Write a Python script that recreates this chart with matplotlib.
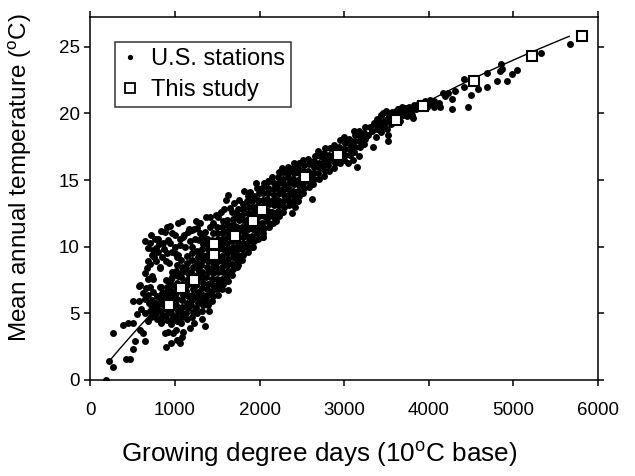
import numpy as np
import matplotlib
matplotlib.use("Agg")
import matplotlib.pyplot as plt
from matplotlib.lines import Line2D

plt.rcParams['font.family'] = ['Liberation Sans', 'DejaVu Sans']
plt.rcParams['mathtext.fontset'] = 'custom'
plt.rcParams['mathtext.rm'] = 'Liberation Sans'
plt.rcParams['mathtext.it'] = 'Liberation Sans:italic'

# ---------------- data ----------------
x_ticks = [0, 1000, 2000, 3000, 4000, 5000, 6000]
y_ticks = [0, 5, 10, 15, 20, 25]

# "This study" squares
study_gdd = [933, 1065, 1228, 1465, 1465, 1713, 1926, 2028, 2537, 2923, 3612, 3931, 4534, 5223, 5807]
study_temp = [5.65, 6.9, 7.5, 9.4, 10.2, 10.8, 11.9, 12.75, 15.2, 16.9, 19.5, 20.55, 22.4, 24.3, 25.8]

# points
curve_gdd = [216, 720, 2923, 3931, 4040, 4534, 5223, 5658]
curve_temp = [1.43, 4.88, 17.0, 20.65, 21.0, 22.7, 24.6, 25.8]

# U.S. stations: dense core of the cloud
stations_core = [
    (712,4.7),(726,5.1),(716,5.6),(730,6.0),
    (785,4.6),(772,5.0),(790,5.4),(776,5.8),(786,6.3),
    (838,4.4),(850,4.8),(832,5.2),(846,5.7),(836,6.1),(852,6.5),(840,7.0),
    (905,4.5),(892,4.9),(910,5.3),(896,5.7),(908,6.2),(890,6.6),(904,7.0),(895,7.5),
    (955,4.2),(968,4.6),(950,5.0),(964,5.4),(956,5.9),(970,6.3),(952,6.7),(962,7.1),(958,7.6),(966,8.1),
    (1025,4.4),(1012,4.8),(1030,5.2),(1016,5.6),(1028,6.1),(1010,6.5),(1024,6.9),(1018,7.3),(1032,7.8),(1014,8.2),(1026,8.6),
    (1076,4.3),(1088,4.7),(1072,5.1),(1086,5.5),(1078,6.0),(1090,6.4),(1074,6.8),(1084,7.2),(1070,7.7),(1088,8.1),(1080,8.5),(1076,9.0),
    (1145,4.6),(1132,5.0),(1150,5.4),(1136,5.8),(1148,6.3),(1130,6.7),(1144,7.1),(1138,7.5),(1152,8.0),(1134,8.4),(1146,8.8),(1140,9.3),
    (1196,4.7),(1208,5.1),(1192,5.6),(1206,6.0),(1198,6.4),(1210,6.8),(1194,7.3),(1204,7.7),(1190,8.1),(1208,8.5),(1200,9.0),(1196,9.5),
    (1265,5.0),(1252,5.4),(1270,5.8),(1256,6.2),(1268,6.6),(1250,7.1),(1264,7.5),(1258,7.9),(1272,8.3),(1254,8.8),(1266,9.2),(1260,9.7),
    (1316,5.2),(1328,5.6),(1312,6.0),(1326,6.4),(1318,6.9),(1330,7.3),(1314,7.7),(1324,8.1),(1310,8.6),(1328,9.0),(1320,9.4),(1316,9.8),(1326,10.2),
    (1385,5.6),(1372,6.0),(1390,6.4),(1376,6.8),(1388,7.2),(1370,7.7),(1384,8.1),(1378,8.5),(1392,8.9),(1374,9.4),(1386,9.8),(1380,10.2),(1376,10.6),
    (1436,5.9),(1448,6.3),(1432,6.7),(1446,7.1),(1438,7.6),(1450,8.0),(1434,8.4),(1444,8.8),(1430,9.3),(1448,9.7),(1440,10.1),(1436,10.5),(1446,11.0),
    (1505,6.4),(1492,6.8),(1510,7.2),(1496,7.6),(1508,8.1),(1490,8.5),(1504,8.9),(1498,9.3),(1512,9.8),(1494,10.2),(1506,10.6),(1500,11.0),(1496,11.5),
    (1556,6.8),(1568,7.2),(1552,7.6),(1566,8.1),(1558,8.5),(1570,8.9),(1554,9.3),(1564,9.8),(1550,10.2),(1568,10.6),(1560,11.0),(1556,11.5),(1566,11.9),
    (1625,7.4),(1612,7.8),(1630,8.2),(1616,8.6),(1628,9.1),(1610,9.5),(1624,9.9),(1618,10.3),(1632,10.8),(1614,11.2),(1626,11.6),(1620,12.0),
    (1676,7.9),(1688,8.3),(1672,8.7),(1686,9.2),(1678,9.6),(1690,10.0),(1674,10.4),(1684,10.9),(1670,11.3),(1688,11.7),(1680,12.1),(1676,12.6),
    (1745,8.6),(1732,9.0),(1750,9.4),(1736,9.8),(1748,10.3),(1730,10.7),(1744,11.1),(1738,11.5),(1752,12.0),(1734,12.4),(1746,12.8),
    (1796,9.0),(1808,9.4),(1792,9.8),(1806,10.3),(1798,10.7),(1810,11.1),(1794,11.5),(1804,12.0),(1790,12.4),(1808,12.8),(1800,13.2),
    (1865,9.6),(1852,10.0),(1870,10.4),(1856,10.8),(1868,11.3),(1850,11.7),(1864,12.1),(1858,12.5),(1872,13.0),(1854,13.4),(1866,13.8),
    (1916,10.0),(1928,10.4),(1912,10.8),(1926,11.3),(1918,11.7),(1930,12.1),(1914,12.5),(1924,13.0),(1910,13.4),(1928,13.8),
    (1985,10.6),(1972,11.0),(1990,11.4),(1976,11.8),(1988,12.3),(1970,12.7),(1984,13.1),(1978,13.5),(1992,14.0),(1974,14.4),
    (2036,11.0),(2048,11.4),(2032,11.8),(2046,12.3),(2038,12.7),(2050,13.1),(2034,13.5),(2044,14.0),(2030,14.4),(2048,14.8),
    (2105,11.5),(2092,11.9),(2110,12.3),(2096,12.7),(2108,13.2),(2090,13.6),(2104,14.0),(2098,14.4),(2112,14.9),
    (2156,11.8),(2168,12.2),(2152,12.6),(2166,13.1),(2158,13.5),(2170,13.9),(2154,14.3),(2164,14.8),(2150,15.2),
    (2225,12.3),(2212,12.7),(2230,13.1),(2216,13.5),(2228,14.0),(2210,14.4),(2224,14.8),(2218,15.2),(2232,15.6),
    (2276,12.6),(2288,13.0),(2272,13.4),(2286,13.9),(2278,14.3),(2290,14.7),(2274,15.1),(2284,15.6),(2270,15.9),
    (2345,13.1),(2332,13.5),(2350,13.9),(2336,14.3),(2348,14.8),(2330,15.2),(2344,15.6),(2338,16.0),
    (2396,13.4),(2408,13.8),(2392,14.2),(2406,14.7),(2398,15.1),(2410,15.5),(2394,15.9),(2404,16.3),
    (2465,13.8),(2452,14.2),(2470,14.6),(2456,15.0),(2468,15.5),(2450,15.9),(2464,16.3),
    (2516,14.0),(2528,14.4),(2512,14.8),(2526,15.3),(2518,15.7),(2530,16.1),(2514,16.5),
    (2585,14.5),(2572,14.9),(2590,15.3),(2576,15.7),(2588,16.2),(2570,16.6),
    (2636,14.7),(2648,15.1),(2632,15.5),(2646,16.0),(2638,16.4),(2650,16.8),
    (2705,15.1),(2692,15.5),(2710,15.9),(2696,16.3),(2708,16.8),(2690,17.2),
    (2756,15.3),(2768,15.7),(2752,16.1),(2766,16.6),(2758,17.0),(2770,17.4),
    (2825,15.7),(2812,16.1),(2830,16.5),(2816,16.9),(2828,17.4),
    (2876,15.9),(2888,16.3),(2872,16.7),(2886,17.2),(2878,17.6),
    (2945,16.3),(2932,16.7),(2950,17.1),(2936,17.5),(2948,18.0),
    (2996,16.5),(3008,16.9),(2992,17.3),(3006,17.8),(2998,18.2),
    (3065,16.9),(3052,17.3),(3070,17.7),(3056,18.1),
    (3116,17.1),(3128,17.5),(3112,17.9),(3126,18.4),(3118,18.7),
    (3185,17.5),(3172,17.9),(3190,18.3),(3176,18.7),
    (3236,17.7),(3248,18.1),(3232,18.5),(3246,19.0),
]

# U.S. stations: cold end and scattered points below the core
stations_cold = [
    (184,0.0),(223,1.45),(271,1.0),(271,3.5),(420,1.6),(468,1.6),(499,2.3),(531,2.95),
    (649,2.9),(389,4.1),(448,4.3),(507,4.25),(586,3.75),(625,3.5),(554,4.95),(645,5.0),
    (507,5.9),(578,5.9),(645,6.1),(684,6.4),(578,7.05),(700,5.2),(740,4.9),(760,5.5),
    (889,2.5),(948,2.75),(1019,3.0),(1059,2.75),(980,3.5),(1078,3.25),(1098,3.6),(1177,3.9),
    (1354,4.05),(1315,4.55),(1630,6.75),(918,3.6),(1016,3.75),(831,4.3),(886,3.55),
    (1531,7.0),(1728,8.5),(1689,9.5),(1768,10.0),(1906,10.0),(2044,10.7),(2041,10.75),
    (620,6.5),(660,6.9),(690,5.8),(740,6.6),(600,5.3),(680,4.4),(1230,4.3),(1400,5.2),
]

# U.S. stations: the loose wing above the core (cool, wet sites)
stations_wing = [
    (1079,11.9),(941,11.55),(882,11.1),(1000,10.9),(803,10.6),(705,10.25),(744,9.75),(724,9.4),
    (685,8.9),(665,8.4),(862,10.25),(941,10.25),(961,9.6),(1059,10.1),(1099,10.75),(1158,11.1),
    (1197,11.25),(1256,11.4),(1296,11.75),(1355,11.1),(1414,12.25),(1512,12.25),(1315,10.75),
    (1374,10.6),(823,8.4),(744,7.6),(705,6.95),(823,7.0),(921,7.4),(980,8.0),(586,7.1),(862,6.5),
    (650,10.4),(760,10.6),(780,9.9),(700,8.7),(730,7.8),(820,8.5),(840,11.2),(900,11.45),
    (920,10.5),(960,11.0),(1040,11.8),(1110,10.9),(1160,11.3),(1220,11.3),(1340,10.7),(1600,11.9),
    (1630,13.9),(1602,13.5),(1884,14.1),(1962,14.75),(2100,14.9),(2258,15.6),(1371,12.25),
    (1490,12.4),(1253,11.9),(1647,12.9),(1726,12.5),(999,10.0),(1019,9.25),(960,7.75),
    (2199,11.9),(2179,12.5),(2379,12.5),(2418,13.0),(2457,13.4),(2615,13.55),
    (680,9.9),(720,10.9),(750,9.2),(770,8.9),(800,9.6),(810,10.2),(850,9.2),(870,9.8),
    (890,8.9),(910,9.5),(930,8.8),(1000,9.5),(1040,9.4),(1060,10.6),(1120,10.0),(1180,10.4),
    (1200,10.0),(1240,10.6),(1280,10.5),(1300,11.0),(1410,11.5),(1450,11.8),(1540,12.6),
    (1580,12.8),(1700,13.3),(1760,13.5),(1820,14.2),(680,7.6),(640,8.0),
]

# U.S. stations: warm end, thinning out along the curve
stations_warm = [
    (3048,16.25),(3100,16.5),(3147,16.0),(3180,16.8),(3340,17.5),(3520,18.4),(3520,17.9),
    (3280,18.4),(3300,19.0),(3330,18.7),(3350,19.3),(3370,18.2),(3390,19.6),(3400,18.9),
    (3420,19.3),(3440,18.6),(3460,20.0),(3470,19.1),(3500,19.5),(3510,18.8),(3530,19.8),
    (3550,19.2),(3570,20.1),(3590,19.6),(3620,19.9),(3640,20.3),(3660,19.4),(3690,20.0),
    (3720,20.4),(3740,19.8),(3760,20.5),(3790,20.2),(3800,19.9),(3830,20.6),(3850,20.3),
    (3880,20.8),(3900,20.4),(3950,20.9),(3980,20.5),(4010,21.0),
    (3360,19.2),(3390,18.8),(3410,19.4),(3430,19.9),(3450,19.0),(3480,19.5),(3490,20.2),
    (3520,19.6),(3540,20.0),(3560,19.4),(3580,19.9),(3610,20.2),(3650,20.0),(3680,20.5),
    (3700,19.9),(3730,20.1),(3770,20.4),(3810,20.3),(3860,20.5),(3920,20.7),
    (3840,20.5),(3817,19.65),(3778,20.2),(3732,20.4),(3694,20.3),(3636,20.3),
    (4010,20.8),(4060,20.9),(4060,20.5),(4118,20.8),(4137,20.5),(4164,21.55),(4195,21.3),
    (4225,21.5),(4272,21.1),(4272,20.3),(4310,21.65),(4418,22.0),(4418,22.55),(4457,20.45),
    (4503,21.4),(4580,21.8),(4688,22.0),(4688,23.0),(4803,22.45),(4842,23.2),(4850,23.7),
    (4869,23.3),(4919,22.45),(4984,22.95),(5042,23.25),(5331,24.5),(5666,25.2),
]

# ---------------- figure ----------------
W, H = 635, 476
fig = plt.figure(figsize=(W / 100, H / 100), dpi=100)
ax = fig.add_axes([90.4 / W, (H - 380) / H, (598.1 - 90.4) / W, (380 - 17) / H])

stations = stations_core + stations_cold + stations_wing + stations_warm
st_gdd = [p[0] for p in stations]
st_temp = [p[1] for p in stations]
ax.plot(st_gdd, st_temp, linestyle='none', marker='o', ms=5.0, mew=0,
        color='black', zorder=2)

coef = np.polyfit(curve_gdd, curve_temp, 3)
gx = np.linspace(min(curve_gdd), max(curve_gdd), 300)
ax.plot(gx, np.polyval(coef, gx), color='black', lw=1.0, zorder=3)

ax.plot(study_gdd, study_temp, linestyle='none', marker='s', ms=7.4,
        mfc='white', mec='black', mew=1.5, zorder=4)

ax.set_xlim(0, 6000)
ax.set_ylim(0, (380 - 17) / 13.33)
ax.set_xticks(x_ticks)
ax.set_yticks(y_ticks)
ax.tick_params(axis='both', which='major', direction='out', length=4.5, width=1.1,
               labelsize=13.5, top=True, right=True, pad=3)
ax.tick_params(axis='x', pad=11)
for s in ax.spines.values():
    s.set_linewidth(1.1)

ax.set_xlabel('Growing degree days (10$^{\\rm o}$C base)', fontsize=18.8)
ax.xaxis.set_label_coords((319 - 90.4) / 507.7, (380 - 440) / 363, transform=ax.transAxes)
ax.xaxis.label.set_va('top')
ax.set_ylabel('Mean annual temperature ($^{\\rm o}$C)', fontsize=17.5)
ax.yaxis.set_label_coords((20 - 90.4) / 507.7, (380 - 177.5) / 363, transform=ax.transAxes)
ax.yaxis.label.set_va('center')

handles = [
    Line2D([], [], linestyle='none', marker='o', ms=3.8, mew=0, color='black'),
    Line2D([], [], linestyle='none', marker='s', ms=7.0, mfc='white', mec='black', mew=1.3),
]
leg = ax.legend(handles, ['U.S. stations', 'This study'], loc='upper left',
                bbox_to_anchor=(0.048, 0.931), fontsize=17, frameon=True,
                fancybox=False, edgecolor='black', borderpad=0.25,
                handlelength=0.8, handletextpad=0.5, labelspacing=0.4,
                borderaxespad=0)
leg.get_frame().set_linewidth(1.1)

fig.savefig('out.png', dpi=100)
